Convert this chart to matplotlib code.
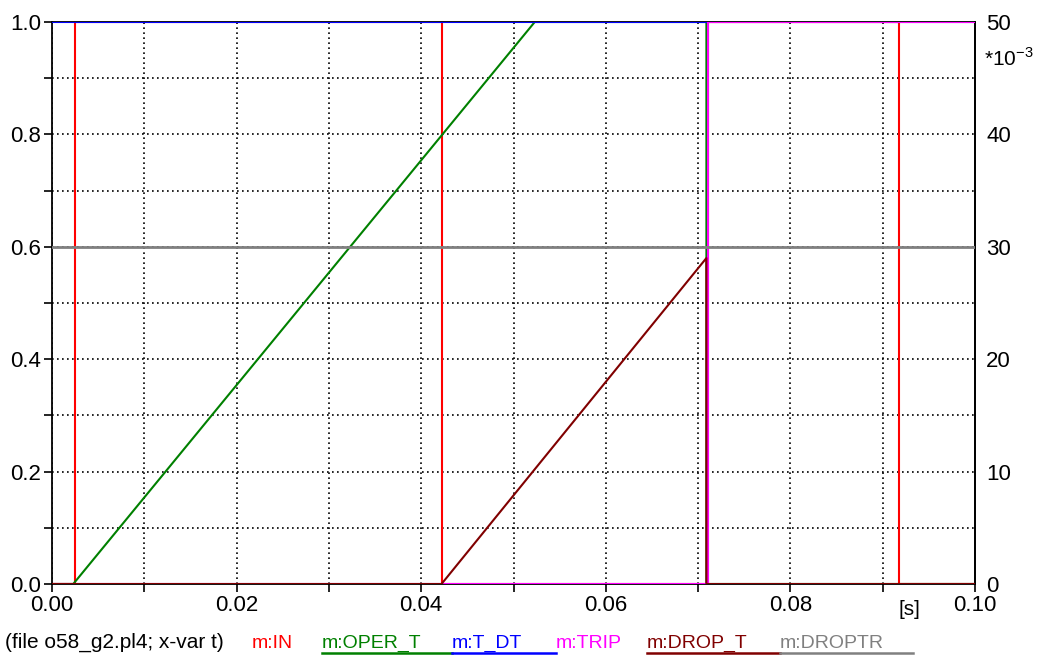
import numpy as np
import matplotlib.pyplot as plt
from matplotlib.ticker import MultipleLocator, FixedLocator, FuncFormatter

plt.rcParams["font.family"] = ["Liberation Sans", "DejaVu Sans"]

# time breakpoints [s] and values
in_t = [0.0, 0.0025, 0.0025, 0.0422, 0.0422, 0.0711, 0.0711, 0.0918, 0.0918, 0.1]
in_v = [0, 0, 1, 1, 0, 0, 1, 1, 0, 0]

# timers on right axis, in units of 1e-3
oper_t = [0.0, 0.0023, 0.0523, 0.0709, 0.0709, 0.1]
oper_v = [0, 0, 50, 50, 0, 0]

tdt_t = [0.0, 0.1]
tdt_v = [1, 1]

trip_t = [0.0, 0.0711, 0.0711, 0.1]
trip_v = [0, 0, 1, 1]

drop_t = [0.0, 0.0422, 0.0709, 0.0709, 0.1]
drop_v = [0, 0, 29.0, 0, 0]

droptr_t = [0.0, 0.1]
droptr_v = [30, 30]

right_max = 50.0
x_ticks = [round(0.01 * i, 2) for i in range(11)]
y_ticks = [round(0.1 * i, 1) for i in range(11)]
right_ticks = [0, 10, 20, 30, 40, 50]

legend_names = ["m:IN", "m:OPER_T", "m:T_DT", "m:TRIP", "m:DROP_T", "m:DROPTR"]
legend_cols = ["#ff0000", "#008000", "#0000ff", "#ff00ff", "#800000", "#808080"]
legend_x = [252, 322, 452, 556, 647, 780]
legend_ul = [False, True, True, False, True, True]

fig = plt.figure(figsize=(10.43, 6.57), dpi=100)
ax = fig.add_axes([52 / 1043, 1 - 584 / 657, 923 / 1043, 562 / 657])

lw = 1.5
r = lambda v: np.array(v) / right_max
ax.plot(in_t, in_v, color=legend_cols[0], lw=lw, zorder=3)
ax.plot(oper_t, r(oper_v), color=legend_cols[1], lw=lw, zorder=3)
ax.plot(tdt_t, tdt_v, color=legend_cols[2], lw=lw, zorder=3)
ax.plot(trip_t, trip_v, color=legend_cols[3], lw=lw, zorder=3)
ax.plot(drop_t, r(drop_v), color=legend_cols[4], lw=lw, zorder=3)
ax.plot(droptr_t, r(droptr_v), color=legend_cols[5], lw=2, zorder=3)

ax.set_xlim(0, 0.1)
ax.set_ylim(0, 1)
ax.xaxis.set_major_locator(FixedLocator(x_ticks))
ax.yaxis.set_major_locator(FixedLocator(y_ticks))
ax.xaxis.set_major_formatter(FuncFormatter(
    lambda v, p: f"{v:.2f}" if round(v * 100) % 2 == 0 else ""))
ax.yaxis.set_major_formatter(FuncFormatter(
    lambda v, p: f"{v:.1f}" if round(v * 10) % 2 == 0 else ""))
ax.grid(True, color="black", linestyle=(0, (1, 2)), lw=1.2)
ax.tick_params(labelsize=16, length=6, width=1.2, direction="out", pad=2)
for s in ax.spines.values():
    s.set_linewidth(1.3)

sec = ax.secondary_yaxis("right", functions=(lambda y: y * right_max, lambda y: y / right_max))
sec.yaxis.set_major_locator(FixedLocator(right_ticks))
sec.tick_params(labelsize=16, length=0, pad=8)
sec.spines["right"].set_linewidth(1.3)
fig.text(984 / 1043, 1 - 66 / 657, r"*10$^{\mathregular{-3}}$", fontsize=15)

fig.text(898 / 1043, 1 - 615 / 657, "[s]", fontsize=15)

base_y = 1 - 648 / 657
fig.text(5 / 1043, base_y, "(file o58_g2.pl4; x-var t)", fontsize=15, va="baseline")
for i, name in enumerate(legend_names):
    fig.text(legend_x[i] / 1043, base_y, name, fontsize=14, va="baseline",
             color=legend_cols[i])
    if legend_ul[i]:
        x1 = legend_x[i + 1] if i + 1 < len(legend_x) else 913
        fig.add_artist(plt.Line2D([legend_x[i] / 1043, x1 / 1043],
                                  [1 - 653 / 657, 1 - 653 / 657],
                                  color=legend_cols[i], lw=1.8))

fig.savefig("out.png", dpi=100)
